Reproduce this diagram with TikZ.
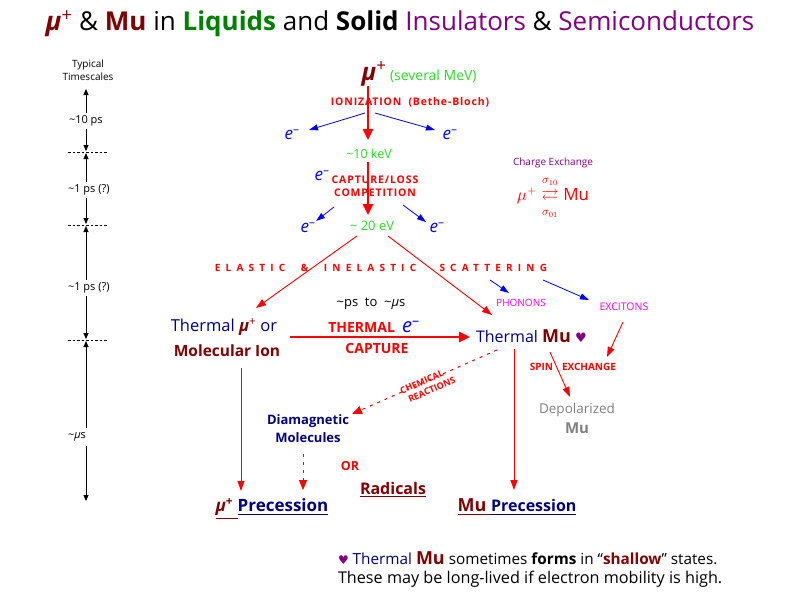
\documentclass[tikz,border=0pt]{standalone}
\usepackage{amsmath,amssymb}
\usepackage{fontspec}
\setmainfont{Open Sans}
\newfontfamily\dejavu{DejaVu Sans}
\usetikzlibrary{arrows.meta}
\definecolor{dred}{RGB}{128,0,0}
\definecolor{navy}{RGB}{0,0,128}
\definecolor{dgreen}{RGB}{0,128,0}
\definecolor{lgreen}{RGB}{40,220,40}
\definecolor{purp}{RGB}{128,0,128}
\definecolor{mag}{RGB}{255,0,255}
\definecolor{bblue}{RGB}{0,0,255}
\definecolor{rred}{RGB}{255,0,0}
\definecolor{gry}{RGB}{128,128,128}
\newcommand{\fs}[1]{\fontsize{#1}{#1}\selectfont}
\newcommand{\heartsym}{{\dejavu ♥}}
\begin{document}
\begin{tikzpicture}[x=1pt,y=-1pt,
  every node/.style={inner sep=0pt,outer sep=0pt},
  tl/.style={draw=black,line width=0.9pt,-{Triangle[length=6pt,width=5pt]}},
  tdash/.style={draw=black,line width=0.6pt,dash pattern=on 2.5pt off 2pt},
  bigred/.style={draw=rred,line width=2.6pt,-{Triangle[length=11pt,width=10pt]}},
  thinred/.style={draw=rred,line width=0.9pt,-{Triangle[length=10pt,width=7pt]}},
  bluearr/.style={draw=bblue,line width=0.8pt,-{Triangle[length=9pt,width=6pt]}},
  dotred/.style={draw=rred,line width=1pt,dash pattern=on 3pt off 5pt,-{Triangle[length=10pt,width=8pt]}},
  tsl/.style={font=\fs{11}},
  elec/.style={text=bblue,font=\fs{17}\itshape},
  redsmall/.style={text=rred,font=\fs{10.5}\bfseries\addfontfeature{LetterSpace=8}},
]
\fill[white] (0,0) rectangle (800,600);
\useasboundingbox (0,0) rectangle (800,600);

% Title
\node (title) at (400,24) {\fs{26}\textcolor{dred}{\textit{\textbf{μ}}\textsuperscript{+}} \& \textcolor{dred}{\textbf{Mu}} in \textcolor{dgreen}{\textbf{Liquids}} and \textbf{Solid} \textcolor{purp}{Insulators} \& \textcolor{purp}{Semiconductors}};

% Timescales
\node[align=center,font=\fs{10},text=black] (tts) at (88,70) {Typical\\[3pt]Timescales};
\node[tsl,anchor=west] (t1) at (69,121) {\textasciitilde10 ps};
\node[tsl,anchor=west] (t2) at (68,190) {\textasciitilde1 ps (?)};
\node[tsl,anchor=west] (t3) at (68,288) {\textasciitilde1 ps (?)};
\node[tsl,anchor=west] (t4) at (68,437) {\textasciitilde\textit{μ}s};
\coordinate (d1l) at (68,152); \coordinate (d1r) at (108,152);
\coordinate (d2l) at (68,225); \coordinate (d2r) at (108,225);
\coordinate (d3l) at (68,340); \coordinate (d3r) at (108,340);
\draw[tdash] (d1l) -- (d1r);
\draw[tdash] (d2l) -- (d2r);
\draw[tdash] (d3l) -- (d3r);
\draw[tl] (86,113) -- (86,89);
\draw[tl] (86,129) -- (86,151);
\draw[tl] (86,182) -- (86,153);
\draw[tl] (86,198) -- (86,224);
\draw[tl] (86,280) -- (86,226);
\draw[tl] (86,296) -- (86,339);
\draw[tl] (86,428) -- (86,341);
\draw[tl] (86,446) -- (86,501);

% Top cascade
\node (mu) at (374,74) {\fs{24}\textcolor{dred}{\textit{\textbf{μ}}\textsuperscript{+}}};
\node[anchor=west,text=lgreen,font=\fs{14}] (mev) at (390,76) {(several MeV)};
\node[redsmall] (ion) at (410,102) {IONIZATION\ \ (Bethe-Bloch)};
\node[elec] (e1) at (292,135) {e\textsuperscript{\upshape --}};
\node[elec] (e2) at (450,135) {e\textsuperscript{\upshape --}};
\node[text=lgreen,font=\fs{12.5}] (kev) at (369,154) {\textasciitilde10 keV};
\node[elec] (e3) at (322,176) {e\textsuperscript{\upshape --}};
\node[redsmall,align=center] (cap) at (375,186) {CAPTURE/LOSS\\[3pt]COMPETITION};
\node[elec] (e4) at (308,228) {e\textsuperscript{\upshape --}};
\node[elec] (e5) at (437,228) {e\textsuperscript{\upshape --}};
\node[text=lgreen,font=\fs{13}] (ev) at (372,226) {\textasciitilde\ 20 eV};

\coordinate (a1s) at (368,86); \coordinate (a1e) at (368,140);
\coordinate (a2s) at (368,162); \coordinate (a2e) at (368,215);
\draw[bigred] (a1s) -- (a1e);
\draw[bigred] (a2s) -- (a2e);
\draw[bluearr] (365,113) -- (309,130);
\draw[bluearr] (375,113) -- (435,130);
\draw[bluearr] (334,207) -- (316,221);
\draw[bluearr] (403,205) -- (426,222);

% Charge exchange
\node[text=purp,font=\fs{10}] (cx) at (553,163) {Charge Exchange};
\node[text=rred] (cxf) at (553,198) {\fs{17}$\mu^{+}\underset{\raisebox{-2pt}{$\scriptstyle\sigma_{01}$}}{\overset{\raisebox{2pt}{$\scriptstyle\sigma_{10}$}}{\rightleftarrows}}\mathrm{Mu}$};

% Scattering
\node[text=rred,font=\fs{10}\bfseries\addfontfeature{LetterSpace=52}] (scat) at (381,268) {ELASTIC\ \ \&\ \ INELASTIC\ \ \ SCATTERING};
\draw[thinred] (357,236) -- (256,308);
\draw[thinred] (388,236) -- (492,315);
\node[text=mag,font=\fs{10}] (phon) at (521,303) {PHONONS};
\node[text=mag,font=\fs{10.5}] (exc) at (624,307) {EXCITONS};
\draw[bluearr] (490,280) -- (509,293);
\draw[bluearr] (543,280) -- (589,300);

% Middle row
\node[font=\fs{13}] (pstous) at (371,304) {\textasciitilde ps\ \ to\ \ \textasciitilde\textit{μ}s};
\node[text=navy,font=\fs{16.5}] (thmu) at (224,327) {Thermal \textcolor{dred}{\textit{\textbf{μ}}\textsuperscript{+}} or};
\node[text=dred,font=\fs{15.5}\bfseries] (molion) at (227,351) {Molecular Ion};
\node[text=rred,font=\fs{14}\bfseries] (thcap) at (374,327) {THERMAL\ \ \textcolor{bblue}{\fs{20}\mdseries\itshape e\textsuperscript{\upshape --}}};
\node[text=rred,font=\fs{14}\bfseries] (capt) at (377,348) {CAPTURE};
\draw[bigred] (290,337) -- (470,337);
\node[anchor=west,text=navy,font=\fs{16}] (thMu) at (476,336) {Thermal \textcolor{dred}{\fs{18}\bfseries Mu} \textcolor{purp}{\fs{13}\heartsym}};

% Right branch
\node[redsmall,font=\fs{10}\bfseries,anchor=east] (spin) at (553,367) {SPIN};
\node[redsmall,font=\fs{10}\bfseries,anchor=west] (exch) at (562,367) {EXCHANGE};
\node[text=gry,font=\fs{13.5},align=center] (depol) at (577,418) {Depolarized\\[5pt]\fs{15}\bfseries Mu};
\draw[thinred] (514,349) -- (514,490);
\draw[thinred] (550,352) -- (570,397);
\draw[thinred] (623,322) -- (607,357);

% Chemical reactions
\draw[dotred] (497,350) -- (352,414);
\node[redsmall,rotate=24,font=\fs{9}\bfseries,align=center] (chem) at (424,387) {CHEMICAL\\[2pt]\hspace*{12pt}REACTIONS};
\node[text=navy,font=\fs{13}\bfseries,align=center] (diam) at (308,429) {Diamagnetic\\[5pt]Molecules};
\draw[dotred] (303,454) -- (303,490);
\node[text=rred,font=\fs{12.5}\bfseries] (or) at (350,466) {OR};
\node[text=dred,font=\fs{16}\bfseries] (rad) at (393,490) {\underline{Radicals}};

% Precession
\draw[thinred] (241,368) -- (241,491);
\node (muprec) at (272,509) {\fs{17}\bfseries\textcolor{dred}{\underline{\textit{μ}\textsuperscript{+}\ }}\textcolor{navy}{\underline{Precession}}};
\node (Muprec) at (517,507) {\fs{16}\bfseries\textcolor{dred}{\underline{\fs{18}Mu\ }}\textcolor{navy}{\underline{Precession}}};

% Footnote
\node[anchor=west,font=\fs{15.3}] (fn1) at (338,558) {\textcolor{purp}{\fs{12}\heartsym}\ \textcolor{navy}{Thermal} \textcolor{dred}{\fs{18}\bfseries Mu} sometimes \textbf{forms} in “\textcolor{dred}{\textbf{shallow}}” states.};
\node[anchor=west,font=\fs{16.2}] (fn2) at (338,579) {These may be long-lived if electron mobility is high.};
\end{tikzpicture}
\end{document}
